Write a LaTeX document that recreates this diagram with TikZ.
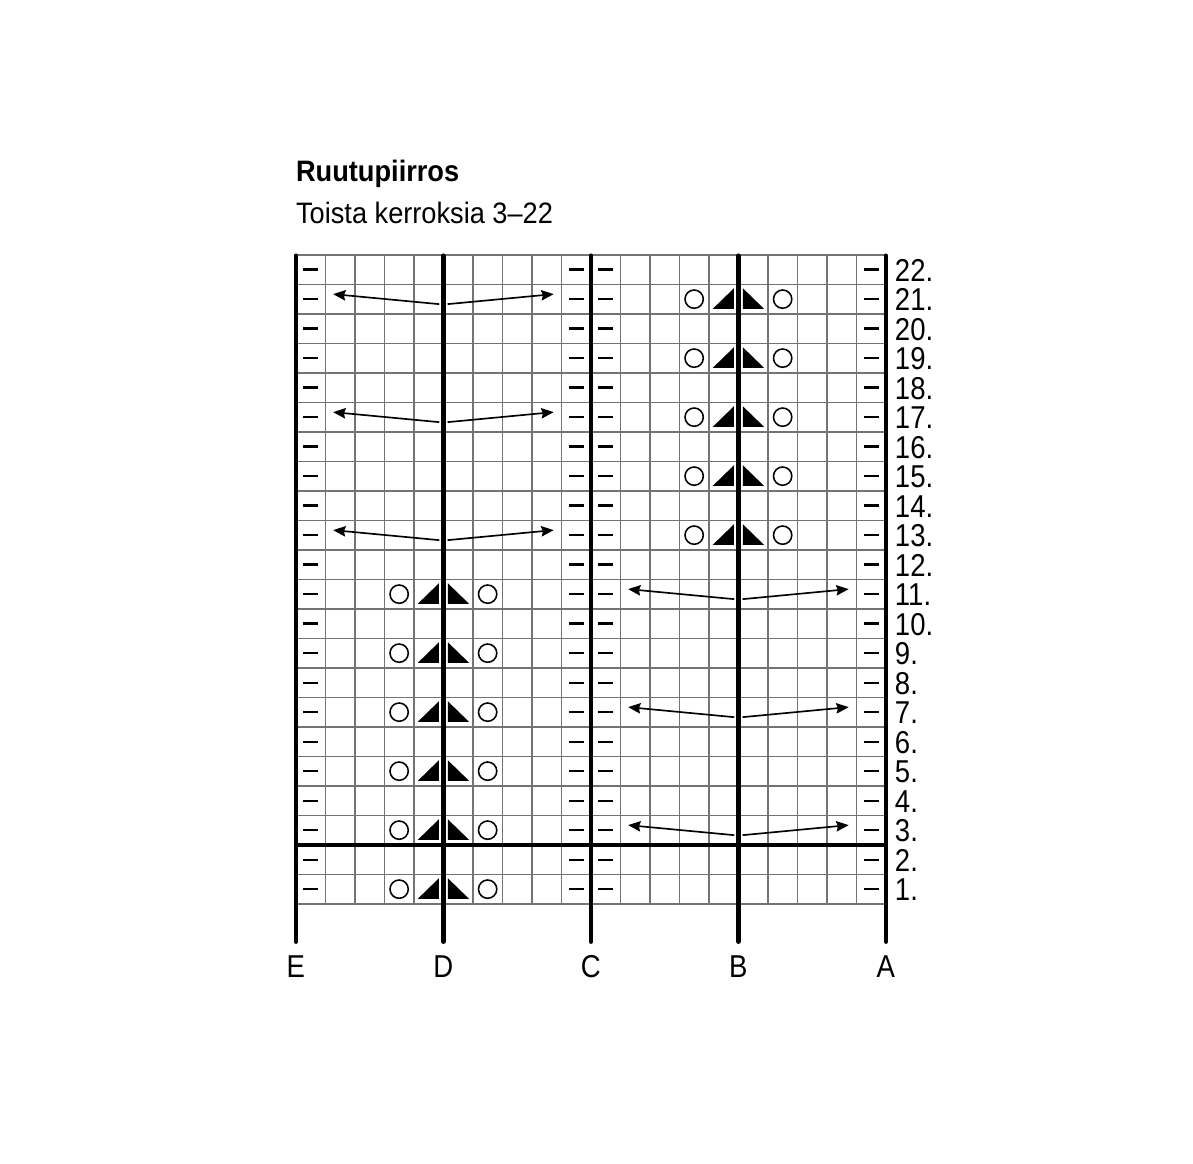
\documentclass[tikz,border=0pt]{standalone}
\usepackage{fontspec}
\setmainfont{Liberation Sans}[FakeStretch=0.92]
\newfontfamily\narrowsans{Liberation Sans}[FakeStretch=0.87]
\usepackage{tikz}
\usetikzlibrary{arrows.meta,positioning}
\tikzset
{
    cellgrid/.style = {draw=gray!90!black, line width=1.3pt},
    bar/.style      = {line width=4.4pt, line cap=round},
    purl/.style     = {line width=2.2pt},
    yarnover/.style = {line width=1.5pt},
    decrease/.style = {fill=black},
    spread/.style   = {->, line width=1.6pt},
    rownum/.style   = {anchor=base west, inner sep=0pt, font=\narrowsans\fontsize{30.5}{30.5}\selectfont},
    colname/.style  = {anchor=base, inner sep=0pt, font=\narrowsans\fontsize{30.5}{30.5}\selectfont}
}

\begin{document}
\begin{tikzpicture}[>={Stealth[length=12pt,width=10pt,inset=1.5pt]}]
    \fill[white] (-10.03,-8.81) rectangle (30.41,30.64);
    \useasboundingbox (-10.03,-8.81) rectangle (30.41,30.64);

    \node[anchor=base west, inner sep=0pt, font=\bfseries\fontsize{28.5}{28.5}\selectfont] (title) at (0,24.48) {Ruutupiirros};
    \node[anchor=base west, inner sep=0pt, font=\fontsize{28.5}{28.5}\selectfont] (subtitle) at (0,23.07) {Toista kerroksia 3–22};

    \draw[cellgrid] (0,0) grid (20,22);

    % purl stitches
    \foreach \r in {1,...,22}
    {
        \foreach \c in {0,9,10,19}
            \draw[purl] (\c+0.25,\r-0.5) -- (\c+0.75,\r-0.5);
        \node[rownum] (r\r) at (20.3,\r-0.89) {\r.};
    }

    % yarn overs and decreases
    \foreach \r/\m in {1/5,3/5,5/5,7/5,9/5,11/5,13/15,15/15,17/15,19/15,21/15}
    {
        \draw[yarnover] (\m-1.5,\r-0.5) circle (0.31);
        \draw[yarnover] (\m+1.5,\r-0.5) circle (0.31);
        \fill[decrease] (\m-0.87,\r-0.83) -- (\m-0.15,\r-0.83) -- (\m-0.15,\r-0.13) -- cycle;
        \fill[decrease] (\m+0.87,\r-0.83) -- (\m+0.15,\r-0.83) -- (\m+0.15,\r-0.13) -- cycle;
    }

    % cables
    \foreach \r/\m in {3/15,7/15,11/15,13/5,17/5,21/5}
    {
        \coordinate (lstart) at (\m-0.14,\r-0.67);
        \coordinate (ltip)   at (\m-3.74,\r-0.33);
        \coordinate (rstart) at (\m+0.14,\r-0.67);
        \coordinate (rtip)   at (\m+3.74,\r-0.33);
        \draw[spread] (lstart) -- (ltip);
        \draw[spread] (rstart) -- (rtip);
    }

    \draw[bar, line cap=butt] (0,2) -- (20,2);
    \foreach \x/\n in {0/E,5/D,10/C,15/B,20/A}
    {
        \draw[bar] (\x,-1.28) -- (\x,21.97);
        \node[colname] (\n) at (\x,-2.49) {\n};
    }
\end{tikzpicture}
\end{document}
